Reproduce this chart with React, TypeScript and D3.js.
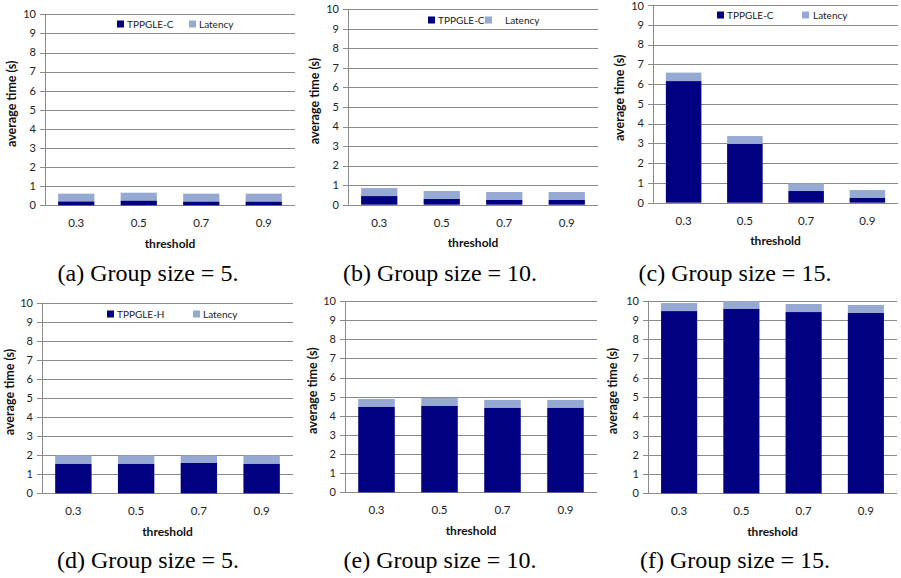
import React from "react";
import * as d3 from "d3";

// thresholds on the x axis
const thresholds = ["0.3", "0.5", "0.7", "0.9"];
const yTickValues = [0, 1, 2, 3, 4, 5, 6, 7, 8, 9, 10];

// TPPGLE-C runs (top row)
const tppgleC5 = [0.2, 0.24, 0.19, 0.19];
const latencyC5 = [0.41, 0.42, 0.42, 0.42];
const tppgleC10 = [0.44, 0.29, 0.24, 0.24];
const latencyC10 = [0.41, 0.41, 0.41, 0.41];
const tppgleC15 = [6.15, 2.97, 0.59, 0.24];
const latencyC15 = [0.43, 0.4, 0.39, 0.4];

// TPPGLE-H runs (bottom row)
const tppgleH5 = [1.54, 1.54, 1.59, 1.54];
const latencyH5 = [0.45, 0.45, 0.4, 0.45];
const tppgleH10 = [4.46, 4.51, 4.41, 4.41];
const latencyH10 = [0.42, 0.42, 0.42, 0.42];
const tppgleH15 = [9.46, 9.57, 9.41, 9.36];
const latencyH15 = [0.42, 0.41, 0.42, 0.42];

const captions = [
  "(a) Group size = 5.",
  "(b) Group size = 10.",
  "(c) Group size = 15.",
  "(d) Group size = 5.",
  "(e) Group size = 10.",
  "(f) Group size = 15.",
];

const DARK = "#000080";
const LIGHT = "#95a9d3";
const GRID = "#8a8a8a";
const FONT = "Lato, 'Open Sans', sans-serif";

// layout of the six panels (pixel boxes), separate from the data
const panels = [
  { main: tppgleC5, lat: latencyC5, name: "TPPGLE-C", left: 45, right: 295, top: 14.3, bottom: 205.3, titleX: 12, capX: 148, capY: 273,
    legend: { y: 24, sq1: 117, sq2: 189, t2: 199 } },
  { main: tppgleC10, lat: latencyC10, name: "TPPGLE-C", left: 348, right: 598, top: 9.3, bottom: 204.7, titleX: 315, capX: 440, capY: 273,
    legend: { y: 20, sq1: 428, sq2: 485, t2: 505 } },
  { main: tppgleC15, lat: latencyC15, name: "TPPGLE-C", left: 653, right: 898, top: 5, bottom: 202.7, titleX: 620, capX: 735, capY: 273,
    legend: { y: 15, sq1: 717, sq2: 802, t2: 813 } },
  { main: tppgleH5, lat: latencyH5, name: "TPPGLE-H", left: 42, right: 293, top: 302.7, bottom: 493.3, titleX: 10, capX: 148, capY: 560,
    legend: { y: 314, sq1: 107, sq2: 193, t2: 203 } },
  { main: tppgleH10, lat: latencyH10, name: "TPPGLE-H", left: 345, right: 597, top: 301, bottom: 492.3, titleX: 313, capX: 440, capY: 560,
    legend: null },
  { main: tppgleH15, lat: latencyH15, name: "TPPGLE-H", left: 648, right: 897, top: 300.7, bottom: 493.3, titleX: 613, capX: 735, capY: 560,
    legend: null },
];

function Panel({ p, caption }: { p: any; caption: string }) {
  const x = d3.scaleBand().domain(thresholds).range([p.left, p.right]).paddingInner(0.42).paddingOuter(0.21);
  const y = d3.scaleLinear().domain([0, 10]).range([p.bottom, p.top]);
  const midY = (p.top + p.bottom) / 2 - 6;

  return (
    <g>
      {yTickValues.map((t) => (
        <g key={t}>
          <line x1={p.left - 5} x2={p.right} y1={Math.round(y(t)) + 0.5} y2={Math.round(y(t)) + 0.5} stroke={GRID} strokeWidth={1} />
          <text x={p.left - 9} y={Math.max(y(t), 6.5)} dy="0.35em" textAnchor="end" fontSize={11} fill="#222" fontFamily={FONT}>{t}</text>
        </g>
      ))}
      <line x1={Math.round(p.left) + 0.5} x2={Math.round(p.left) + 0.5} y1={p.top} y2={p.bottom} stroke={GRID} />

      {thresholds.map((c, i) => {
        const total = p.main[i] + p.lat[i];
        return (
          <g key={c}>
            <rect x={x(c)} width={x.bandwidth()} y={y(total)} height={y(p.main[i]) - y(total)} fill={LIGHT} />
            <rect x={x(c)} width={x.bandwidth()} y={y(p.main[i])} height={p.bottom - y(p.main[i])} fill={DARK} />
            <text x={(x(c) as number) + x.bandwidth() / 2} y={p.bottom + 18} dy="0.35em" textAnchor="middle" fontSize={11.5} fill="#222" fontFamily={FONT}>{c}</text>
          </g>
        );
      })}

      <text x={(p.left + p.right) / 2} y={p.bottom + 38} dy="0.35em" textAnchor="middle" fontSize={12} fontWeight="bold" fill="#111" fontFamily={FONT}>threshold</text>
      <text transform={`translate(${p.titleX},${midY}) rotate(-90)`} textAnchor="middle" dy="0.35em" fontSize={12.5} fontWeight="bold" fill="#111" fontFamily={FONT}>average time (s)</text>

      {p.legend && (
        <g fontFamily={FONT} fontSize={10} fill="#222">
          <rect x={p.legend.sq1} y={p.legend.y - 3.5} width={7} height={7} fill={DARK} />
          <text x={p.legend.sq1 + 10} y={p.legend.y} dy="0.35em">{p.name}</text>
          <rect x={p.legend.sq2} y={p.legend.y - 3.5} width={7} height={7} fill={LIGHT} />
          <text x={p.legend.t2} y={p.legend.y} dy="0.35em">Latency</text>
        </g>
      )}

      <text x={p.capX} y={p.capY} dy="0.35em" textAnchor="middle" fontSize={24} fill="#000" fontFamily="'Liberation Serif', serif">{caption}</text>
    </g>
  );
}

export default function App() {
  return (
    <div style={{ position: "absolute", left: 0, top: 0, width: 901, height: 578, background: "#fff" }}>
      <svg width={901} height={578} style={{ display: "block" }}>
        <rect width={901} height={578} fill="#fff" />
        {panels.map((p, i) => (
          <Panel key={i} p={p} caption={captions[i]} />
        ))}
      </svg>
    </div>
  );
}
